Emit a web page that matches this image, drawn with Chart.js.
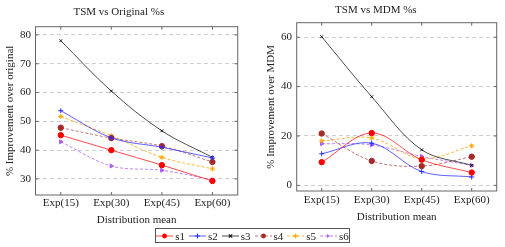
<!DOCTYPE html>
<html>
<head>
<meta charset="utf-8">
<script src="https://cdn.jsdelivr.net/npm/chart.js@4.4.0/dist/chart.umd.min.js"></script>
<style>
    body { margin: 0; width: 505px; height: 247px; background: #fff; position: relative; overflow: hidden; font-family: "Liberation Serif", serif; color: #222; }
    #origChart { position: absolute; left: 0; top: 0; }
    #mdmChart { position: absolute; left: 255px; top: 0; }
    #legend { position: absolute; left: 155px; top: 228px; width: 193px; height: 13px; border: 1px solid #555;
              display: flex; align-items: center; justify-content: center; font-size: 11px; }
    #legend .item { display: flex; align-items: center; margin: 0 2px; }
    #legend svg { margin-right: 2px; }
</style>
</head>
<body>
<canvas id="origChart" width="250" height="230"></canvas>
<canvas id="mdmChart" width="250" height="230"></canvas>
<div id="legend"></div>
<script>
const categories = ['Exp(15)', 'Exp(30)', 'Exp(45)', 'Exp(60)'];
const seriesNames = ['s1', 's2', 's3', 's4', 's5', 's6'];

// TSM vs Original
const origS1 = [45.2, 40.0, 34.8, 29.3];
const origS2 = [53.7, 44.3, 41.0, 37.3];
const origS3 = [78.0, 60.5, 46.7, 37.5];
const origS4 = [47.8, 44.2, 41.4, 35.9];
const origS5 = [51.7, 45.0, 37.5, 33.5];
const origS6 = [42.9, 34.5, 33.0, 29.7];
const origTickStep = 10;

// TSM vs MDM
const mdmS1 = [9.4, 21.2, 10.4, 5.2];
const mdmS2 = [12.8, 17.1, 5.6, 3.4];
const mdmS3 = [60.2, 35.9, 14.4, 8.1];
const mdmS4 = [21.0, 9.9, 7.8, 11.6];
const mdmS5 = [18.0, 19.2, 10.8, 16.0];
const mdmS6 = [16.9, 16.4, 11.7, 8.1];
const mdmTickStep = 20;

const FONT = '"Liberation Serif", serif';

const styles = [
    { line: 'rgba(255,0,0,0.7)', point: '#ff0000', shape: 'circle', r: 2.7, dash: [] },
    { line: 'rgba(40,40,255,0.75)', point: '#2a2aff', shape: 'cross', r: 2.5, dash: [] },
    { line: 'rgba(0,0,0,0.7)', point: '#111', shape: 'crossRot', r: 2, dash: [] },
    { line: 'rgba(165,42,42,0.65)', point: '#a52a2a', shape: 'circle', r: 2.7, dash: [3, 2] },
    { line: 'rgba(255,165,0,0.8)', point: '#ffa500', shape: 'star', r: 2.5, dash: [3, 2] },
    { line: 'rgba(170,90,255,0.75)', point: '#aa5aff', shape: 'triangle', r: 2.3, dash: [3, 2] }
];

function getMinMax(arrays) {
    const all = [].concat(...arrays);
    const min = Math.min(...all);
    const max = Math.max(...all);
    const padding = (max - min) * 0.1;
    return { min: min - padding, max: max + padding };
}

function makeDatasets(arrays) {
    return arrays.map((data, i) => {
        const s = styles[i];
        return {
            label: seriesNames[i],
            data: data,
            borderColor: s.line,
            borderWidth: 1,
            borderDash: s.dash,
            tension: 0.35,
            pointStyle: s.shape,
            pointRadius: s.r,
            pointRotation: s.shape === 'triangle' ? 90 : 0,
            pointBackgroundColor: s.point,
            pointBorderColor: s.point,
            pointBorderWidth: 1,
            fill: false
        };
    });
}

const framePlugin = {
    id: 'frame',
    afterDraw(chart) {
        const { ctx, chartArea: a, scales } = chart;
        ctx.save();
        ctx.strokeStyle = '#666';
        ctx.lineWidth = 1;
        ctx.setLineDash([]);
        ctx.strokeRect(a.left, a.top, a.right - a.left, a.bottom - a.top);
        ctx.beginPath();
        scales.x.ticks.forEach((t, i) => {
            const x = scales.x.getPixelForTick(i);
            ctx.moveTo(x, a.top); ctx.lineTo(x, a.top + 3);
            ctx.moveTo(x, a.bottom); ctx.lineTo(x, a.bottom - 3);
        });
        scales.y.ticks.forEach((t, i) => {
            const y = scales.y.getPixelForTick(i);
            ctx.moveTo(a.left, y); ctx.lineTo(a.left + 3, y);
            ctx.moveTo(a.right, y); ctx.lineTo(a.right - 3, y);
        });
        ctx.stroke();
        ctx.restore();
    }
};

function makeChart(id, cfg) {
    const bounds = getMinMax(cfg.arrays);
    return new Chart(document.getElementById(id), {
        type: 'line',
        data: { labels: categories, datasets: makeDatasets(cfg.arrays) },
        options: {
            responsive: false,
            animation: false,
            layout: { padding: { right: cfg.padRight } },
            plugins: {
                legend: { display: false },
                tooltip: { enabled: false },
                title: {
                    display: true,
                    text: cfg.title,
                    color: '#222',
                    font: { family: FONT, size: 11, weight: 'normal' },
                    padding: cfg.titlePad
                }
            },
            scales: {
                x: {
                    offset: true,
                    grid: { display: false, drawTicks: false },
                    border: { display: false },
                    ticks: { color: '#222', font: { family: FONT, size: 11 }, padding: cfg.xTickPad, maxRotation: 0 },
                    title: { display: true, text: 'Distribution mean', color: '#222', font: { family: FONT, size: 11 }, padding: { top: 0, bottom: cfg.xTitlePad } },
                    afterFit(s) { s.height = cfg.xHeight; }
                },
                y: {
                    min: bounds.min,
                    max: bounds.max,
                    grid: { color: '#cfcfcf', drawTicks: false },
                    border: { display: false, dash: [4, 3] },
                    ticks: { stepSize: cfg.step, includeBounds: false, color: '#222', font: { family: FONT, size: 11 }, padding: cfg.yTickPad },
                    title: { display: true, text: cfg.yTitle, color: '#222', font: { family: FONT, size: 11 }, padding: { top: cfg.yTitlePad, bottom: 0 } },
                    afterFit(s) { s.width = cfg.yWidth; }
                }
            }
        },
        plugins: [framePlugin]
    });
}

makeChart('origChart', {
    arrays: [origS1, origS2, origS3, origS4, origS5, origS6],
    title: 'TSM vs Original %s',
    yTitle: '% Improvement over original',
    step: origTickStep,
    padRight: 12.3,
    titlePad: { top: 6, bottom: 7.5 },
    xTickPad: 1.4, xTitlePad: 3.4, xHeight: 35,
    yTickPad: 4.5, yTitlePad: 3.4, yWidth: 35.5
});

makeChart('mdmChart', {
    arrays: [mdmS1, mdmS2, mdmS3, mdmS4, mdmS5, mdmS6],
    title: 'TSM vs MDM %s',
    yTitle: '% Improvement over MDM',
    step: mdmTickStep,
    padRight: 8.3,
    titlePad: { top: 4, bottom: 5.5 },
    xTickPad: 2.4, xTitlePad: 6.7, xHeight: 39,
    yTickPad: 4.7, yTitlePad: 9.1, yWidth: 41.7
});

// shared legend
function markerSvg(s) {
    const c = s.point;
    if (s.shape === 'circle') return `<circle cx="8.5" cy="5" r="2.4" fill="${c}"/>`;
    if (s.shape === 'cross') return `<path d="M6 5H11M8.5 2.5V7.5" stroke="${c}" stroke-width="1"/>`;
    if (s.shape === 'crossRot') return `<path d="M6.8 3.3L10.2 6.7M10.2 3.3L6.8 6.7" stroke="${c}" stroke-width="1.2"/>`;
    if (s.shape === 'star') return `<path d="M6 5H11M8.5 2.5V7.5M6.8 3.3L10.2 6.7M10.2 3.3L6.8 6.7" stroke="${c}" stroke-width="0.8"/>`;
    return `<path d="M7 3L10 5L7 7Z" fill="${c}"/>`;
}
const legendEl = document.getElementById('legend');
seriesNames.forEach((name, i) => {
    const s = styles[i];
    const dash = s.dash.length ? `stroke-dasharray="${s.dash.join(' ')}"` : '';
    const item = document.createElement('div');
    item.className = 'item';
    item.innerHTML = `<svg width="17" height="10"><line x1="0" y1="5" x2="17" y2="5" stroke="${s.line}" stroke-width="1" ${dash}/>${markerSvg(s)}</svg><span>${name}</span>`;
    legendEl.appendChild(item);
});
</script>
</body>
</html>
